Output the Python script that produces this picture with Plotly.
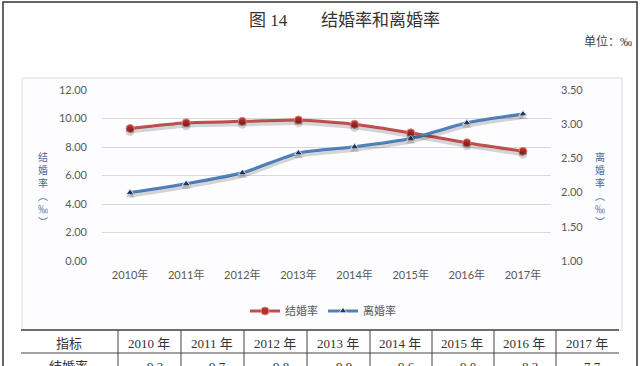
import plotly.graph_objects as go

W, H = 640, 366

years = ['2010年', '2011年', '2012年', '2013年', '2014年', '2015年', '2016年', '2017年']
marriage = [9.3, 9.7, 9.8, 9.9, 9.6, 9.0, 8.3, 7.7]
divorce = [2.00, 2.13, 2.29, 2.58, 2.67, 2.79, 3.02, 3.15]
left_ticks = [0, 2, 4, 6, 8, 10, 12]
right_ticks = [1.0, 1.5, 2.0, 2.5, 3.0, 3.5]
table_header = ['指标', '2010 年', '2011 年', '2012 年', '2013 年', '2014 年', '2015 年', '2016 年', '2017 年']
table_row = ['结婚率', '9.3', '9.7', '9.8', '9.9', '9.6', '9.0', '8.3', '7.7']
left_title = ['结', '婚', '率', '︵', '‰', '︶']
right_title = ['离', '婚', '率', '︵', '‰', '︶']


def px(x):
    return x / W


def py(y):
    return 1 - y / H


RED = '#c0504d'
BLUE = '#4f81bd'
SHADOW = 'rgba(0,0,0,0.16)'
TICKFONT = dict(family='Lato, Noto Sans CJK SC', size=11, color='#595959')

fig = go.Figure()

# shadow traces (offset axes)
fig.add_trace(go.Scatter(x=years, y=marriage, mode='lines+markers', line=dict(color=SHADOW, width=4, shape='spline', smoothing=0.6),
                         marker=dict(symbol='circle', size=9, color=SHADOW), xaxis='x2', yaxis='y3', showlegend=False, hoverinfo='skip'))
fig.add_trace(go.Scatter(x=years, y=divorce, mode='lines+markers', line=dict(color=SHADOW, width=4, shape='spline', smoothing=0.6),
                         marker=dict(symbol='triangle-up', size=8, color=SHADOW), xaxis='x2', yaxis='y4', showlegend=False, hoverinfo='skip'))

fig.add_trace(go.Scatter(x=years, y=marriage, name='结婚率', mode='lines+markers',
                         line=dict(color=RED, width=3, shape='spline', smoothing=0.6),
                         marker=dict(symbol='circle', size=8, color='#b8302c', line=dict(color='#e08a88', width=1))))
fig.add_trace(go.Scatter(x=years, y=divorce, name='离婚率', mode='lines+markers', yaxis='y2',
                         line=dict(color=BLUE, width=3, shape='spline', smoothing=0.6),
                         marker=dict(symbol='triangle-up', size=7, color='#1f3a66', line=dict(color='#dfe6f0', width=1))))

xd = [px(102), px(551)]
yd = [py(261), py(90)]
sx, sy = 2, 3
xd2 = [px(102 + sx), px(551 + sx)]
yd2 = [py(261 + sy), py(90 + sy)]

fig.update_layout(
    width=W, height=H,
    margin=dict(l=0, r=0, t=0, b=0, autoexpand=False),
    paper_bgcolor='white', plot_bgcolor='rgba(0,0,0,0)',
    xaxis=dict(domain=xd, type='category', range=[-0.5, 7.5], showgrid=False, showline=False, zeroline=False,
               ticks='', tickfont=TICKFONT, ticklabelstandoff=6),
    yaxis=dict(domain=yd, range=[0, 12], tickvals=left_ticks, tickformat='.2f', gridcolor='#d9d9d9', gridwidth=1,
               zeroline=False, showline=False, ticks='', tickfont=TICKFONT, ticklabelstandoff=14),
    yaxis2=dict(domain=yd, overlaying='y', side='right', range=[1, 3.5], tickvals=right_ticks, tickformat='.2f',
                showgrid=False, zeroline=False, showline=False, ticks='', tickfont=TICKFONT, ticklabelstandoff=9),
    xaxis2=dict(domain=xd2, type='category', range=[-0.5, 7.5], visible=False, overlaying='x', anchor='y3'),
    yaxis3=dict(domain=yd2, range=[0, 12], visible=False, anchor='x2'),
    yaxis4=dict(domain=yd2, range=[1, 3.5], visible=False, overlaying='y3', anchor='x2'),
    legend=dict(orientation='h', x=px(323), y=py(311), xanchor='center', yanchor='middle',
                font=dict(family='Noto Sans CJK SC', size=11, color='#595959'), bgcolor='rgba(0,0,0,0)',
                itemwidth=30, tracegroupgap=0),
    showlegend=True,
)

shapes = []
# outer page frame
shapes.append(dict(type='rect', xref='paper', yref='paper', x0=px(3), x1=px(637), y0=py(380), y1=py(2),
                   line=dict(color='#333333', width=1.5), fillcolor='rgba(0,0,0,0)', layer='below'))
# chart box
shapes.append(dict(type='rect', xref='paper', yref='paper', x0=px(22), x1=px(622), y0=py(330), y1=py(78),
                   line=dict(color='#dcdcdc', width=1), fillcolor='#fdfdff', layer='below'))
# table lines
shapes.append(dict(type='line', xref='paper', yref='paper', x0=px(21), x1=px(619), y0=py(330), y1=py(330),
                   line=dict(color='#444444', width=1.5)))
shapes.append(dict(type='line', xref='paper', yref='paper', x0=px(21), x1=px(619), y0=py(353), y1=py(353),
                   line=dict(color='#444444', width=1)))
col_edges = [21, 118, 181, 244, 307, 370, 432, 494, 556, 619]
for xe in col_edges[1:-1]:
    shapes.append(dict(type='line', xref='paper', yref='paper', x0=px(xe), x1=px(xe), y0=py(330), y1=py(370),
                       line=dict(color='#444444', width=1)))
fig.update_layout(shapes=shapes)

ann = []
SERIF = 'Liberation Serif, Noto Sans CJK SC'


def add_text(text, x, y, size, color, family, xanchor='center'):
    ann.append(dict(text=text, x=px(x), y=py(y), xref='paper', yref='paper', showarrow=False,
                    xanchor=xanchor, yanchor='middle', font=dict(family=family, size=size, color=color)))


add_text('图 14', 268, 21, 17, '#333333', SERIF)
add_text('结婚率和离婚率', 380, 21, 17, '#333333', SERIF)
add_text('单位：‰', 634, 41, 12, '#444444', SERIF, xanchor='right')
add_text('<br>'.join(left_title), 43, 189, 10, '#4a6a94', 'Noto Sans CJK SC')
add_text('<br>'.join(right_title), 600, 189, 10, '#4a6a94', 'Noto Sans CJK SC')
for i in range(len(table_header)):
    cx = (col_edges[i] + col_edges[i + 1]) / 2
    add_text(table_header[i], cx - 1, 343, 13, '#333333', SERIF)
    add_text(table_row[i], cx + (5 if i > 0 else -1), 366, 13, '#333333', SERIF)
fig.update_layout(annotations=ann)

fig.write_html('out.html', config={'displayModeBar': False},
               post_script="document.body.style.margin='0';document.body.style.padding='0';document.body.style.overflow='hidden';")
